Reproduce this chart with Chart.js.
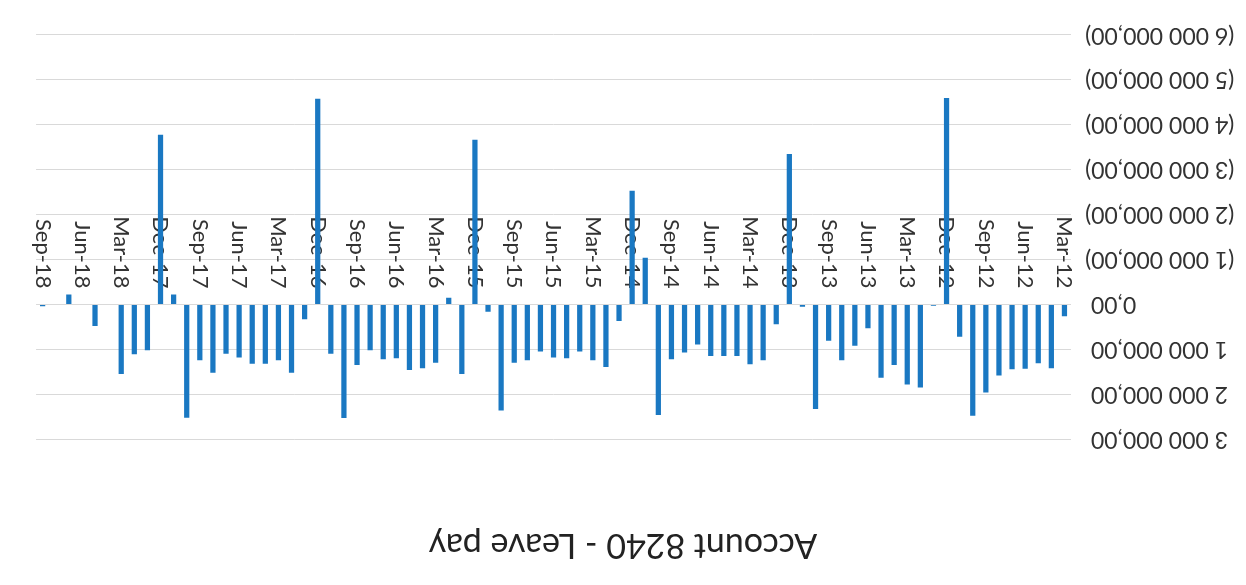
<!DOCTYPE html>
<html>
<head>
<meta charset="utf-8">
<script src="https://cdn.jsdelivr.net/npm/chart.js@4/dist/chart.umd.min.js"></script>
<style>
  html, body { margin: 0; padding: 0; background: #fff; }
  /* the reference picture is upside down, so the whole chart is turned round */
  #wrap { width: 1246px; height: 585px; transform: rotate(180deg); }
</style>
</head>
<body>
<div id="wrap"><canvas id="chart" width="1246" height="585"></canvas></div>
<script>
const months = [
    'Mar-12', 'Apr-12', 'May-12', 'Jun-12', 'Jul-12', 'Aug-12', 'Sep-12', 'Oct-12', 'Nov-12', 'Dec-12',
    'Jan-13', 'Feb-13', 'Mar-13', 'Apr-13', 'May-13', 'Jun-13', 'Jul-13', 'Aug-13', 'Sep-13', 'Oct-13', 'Nov-13', 'Dec-13',
    'Jan-14', 'Feb-14', 'Mar-14', 'Apr-14', 'May-14', 'Jun-14', 'Jul-14', 'Aug-14', 'Sep-14', 'Oct-14', 'Nov-14', 'Dec-14',
    'Jan-15', 'Feb-15', 'Mar-15', 'Apr-15', 'May-15', 'Jun-15', 'Jul-15', 'Aug-15', 'Sep-15', 'Oct-15', 'Nov-15', 'Dec-15',
    'Jan-16', 'Feb-16', 'Mar-16', 'Apr-16', 'May-16', 'Jun-16', 'Jul-16', 'Aug-16', 'Sep-16', 'Oct-16', 'Nov-16', 'Dec-16',
    'Jan-17', 'Feb-17', 'Mar-17', 'Apr-17', 'May-17', 'Jun-17', 'Jul-17', 'Aug-17', 'Sep-17', 'Oct-17', 'Nov-17', 'Dec-17',
    'Jan-18', 'Feb-18', 'Mar-18', 'Apr-18', 'May-18', 'Jun-18', 'Jul-18', 'Aug-18', 'Sep-18'
];

// monthly movement on account 8240
const leavePay = [
    260000, 1420000, 1310000, 1430000, 1440000, 1580000, 1960000, 2480000, 720000, -4600000,
    30000, 1850000, 1780000, 1350000, 1630000, 530000, 920000, 1240000, 810000, 2330000, 50000, -3350000,
    440000, 1240000, 1330000, 1150000, 1150000, 1150000, 890000, 1070000, 1220000, 2460000, -1040000, -2530000,
    370000, 1390000, 1240000, 1050000, 1200000, 1180000, 1050000, 1240000, 1300000, 2360000, 160000, -3670000,
    1550000, -150000, 1300000, 1420000, 1460000, 1200000, 1220000, 1020000, 1350000, 2530000, 1100000, -4580000,
    330000, 1520000, 1240000, 1320000, 1320000, 1180000, 1100000, 1520000, 1240000, 2520000, -220000, -3780000,
    1020000, 1110000, 1550000, 0, 480000, 0, -220000, 0, 40000
];

// labels shown on the category axis (every quarter)
const xTickLabels = [
    'Mar-12', 'Jun-12', 'Sep-12', 'Dec-12', 'Mar-13', 'Jun-13', 'Sep-13', 'Dec-13',
    'Mar-14', 'Jun-14', 'Sep-14', 'Dec-14', 'Mar-15', 'Jun-15', 'Sep-15', 'Dec-15',
    'Mar-16', 'Jun-16', 'Sep-16', 'Dec-16', 'Mar-17', 'Jun-17', 'Sep-17', 'Dec-17',
    'Mar-18', 'Jun-18', 'Sep-18'
];

const yTickValues = [3000000, 2000000, 1000000, 0, -1000000, -2000000, -3000000, -4000000, -5000000, -6000000];

function money(v) {
    const s = Math.abs(v).toFixed(2).replace('.', ',').replace(/\B(?=(\d{3})+(?!\d))/g, ' ');
    return v < 0 ? '(' + s + ')' : s + ' ';
}

// centre the title on the whole canvas, not on the padded box
const centreTitle = {
    id: 'centreTitle',
    afterLayout(chart) {
        const t = chart.titleBlock;
        t.left = 0;
        t.right = chart.width;
        t.width = chart.width;
    }
};

Chart.defaults.font.family = 'Lato';
Chart.defaults.color = '#333';

new Chart(document.getElementById('chart'), {
    type: 'bar',
    data: {
        labels: months,
        datasets: [{
            label: 'Leave pay',
            data: leavePay,
            backgroundColor: '#1a78c2',
            barPercentage: 0.4,
            categoryPercentage: 1.0
        }]
    },
    plugins: [centreTitle],
    options: {
        responsive: false,
        animation: false,
        devicePixelRatio: 1,
        layout: { padding: { left: 0, right: 33, top: 0, bottom: 35 } },
        plugins: {
            legend: { display: false },
            tooltip: { enabled: false },
            title: {
                display: true,
                text: 'Account 8240 - Leave pay',
                color: '#222',
                font: { size: 34, weight: 'normal' },
                padding: { top: 20, bottom: 85 }
            }
        },
        scales: {
            x: {
                position: { y: 0 },
                afterFit: s => { s.height = 0; },
                grid: { display: false, drawTicks: false },
                border: { display: false },
                ticks: {
                    autoSkip: false,
                    minRotation: 90,
                    maxRotation: 90,
                    padding: 16,
                    font: { size: 22 },
                    callback: (v, i) => xTickLabels.includes(months[i]) ? months[i] : ''
                }
            },
            y: {
                min: -6000000,
                max: 3000000,
                afterBuildTicks: s => { s.ticks = yTickValues.map(v => ({ value: v })); },
                afterFit: s => { s.width = 175; },
                grid: { color: '#d9d9d9', drawTicks: false },
                border: { display: false },
                ticks: {
                    padding: 14,
                    font: { size: 23 },
                    callback: v => money(v)
                }
            }
        }
    }
});
</script>
</body>
</html>
